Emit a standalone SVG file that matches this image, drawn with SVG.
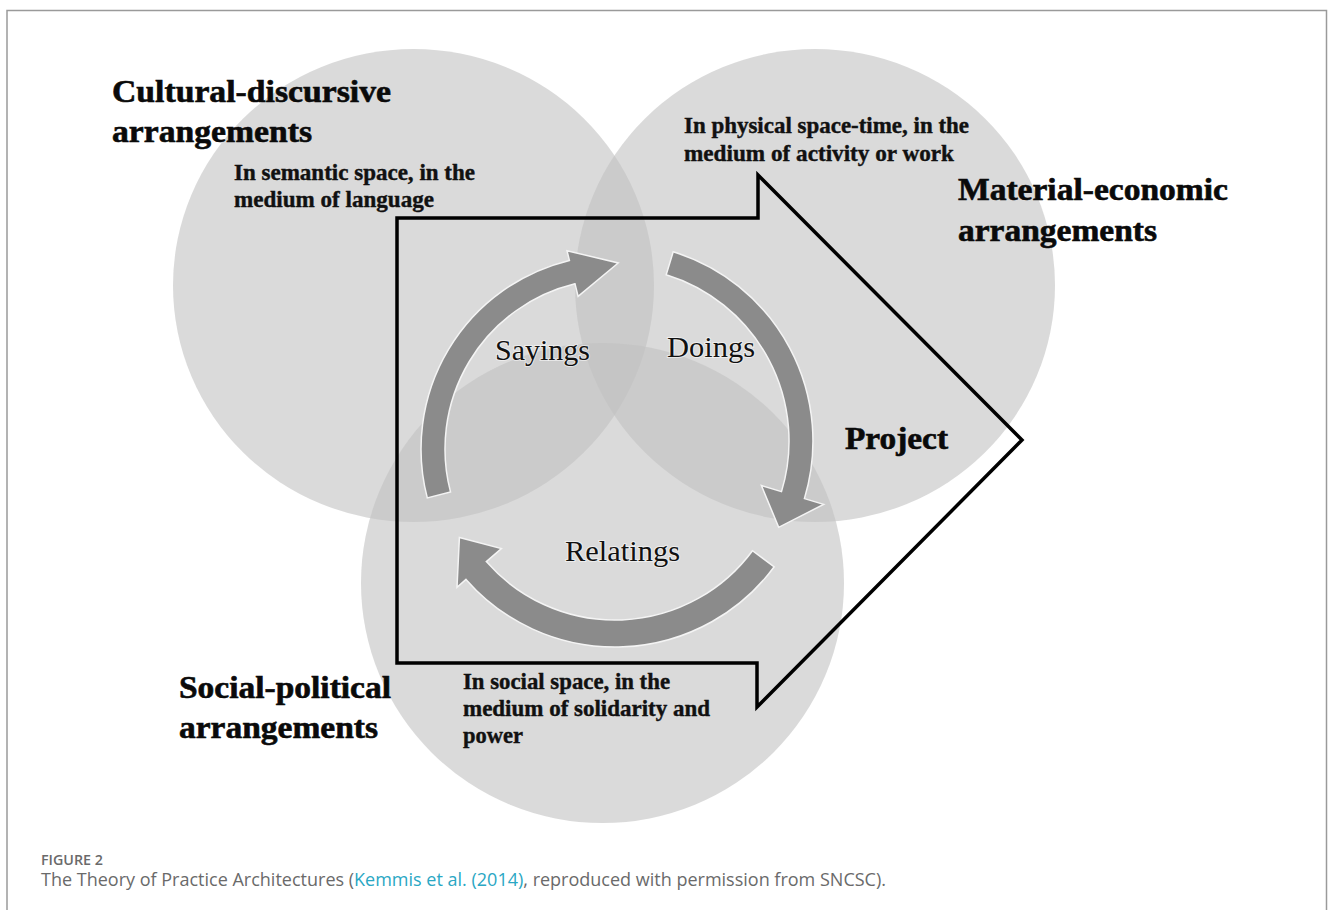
<svg xmlns="http://www.w3.org/2000/svg" width="1333" height="910" viewBox="0 0 1333 910">
<style>
.circ{fill:#c1c1c1;fill-opacity:0.6;}
.title{font-family:"Liberation Serif","Times New Roman",serif;font-weight:bold;font-size:31px;fill:#0a0a0a;stroke:#0a0a0a;stroke-width:0.6px;}
.desc{font-family:"Liberation Serif","Times New Roman",serif;font-weight:bold;font-size:22.5px;fill:#111;stroke:#111;stroke-width:0.4px;}
.lbl{font-family:"Liberation Serif","Times New Roman",serif;font-size:30px;fill:#111;stroke:#fff;stroke-opacity:0.55;stroke-width:2px;paint-order:stroke;}
.proj{font-family:"Liberation Serif","Times New Roman",serif;font-weight:bold;font-size:31px;fill:#0a0a0a;stroke:#0a0a0a;stroke-width:0.6px;}
.arrow{fill:#8b8b8b;stroke:#f4f4f4;stroke-width:1.5px;stroke-linejoin:miter;}
.cap{font-family:"Open Sans","Noto Sans","Liberation Sans",sans-serif;fill:#6a6a6a;}
</style>
<rect x="0" y="0" width="1333" height="910" fill="#fff"/>
<path d="M7 910 V10.5 H1326.5 V910" fill="none" stroke="#9a9a9a" stroke-width="1.5"/>

<g id="cultural-discursive">
<ellipse class="circ" cx="413.5" cy="285.5" rx="240.5" ry="236.5"/>
<text class="title" x="112" y="102" textLength="279" lengthAdjust="spacingAndGlyphs">Cultural-discursive</text>
<text class="title" x="112" y="142" textLength="200" lengthAdjust="spacingAndGlyphs">arrangements</text>
<text class="desc" x="234" y="180" textLength="241" lengthAdjust="spacingAndGlyphs">In semantic space, in the</text>
<text class="desc" x="234" y="207" textLength="200" lengthAdjust="spacingAndGlyphs">medium of language</text>
</g>

<g id="material-economic">
<ellipse class="circ" cx="815" cy="285.5" rx="240" ry="236.5"/>
<text class="desc" x="684" y="133" textLength="285" lengthAdjust="spacingAndGlyphs">In physical space-time, in the</text>
<text class="desc" x="684" y="161" textLength="270" lengthAdjust="spacingAndGlyphs">medium of activity or work</text>
<text class="title" x="958" y="200" textLength="270" lengthAdjust="spacingAndGlyphs">Material-economic</text>
<text class="title" x="958" y="241" textLength="199" lengthAdjust="spacingAndGlyphs">arrangements</text>
</g>

<g id="social-political">
<ellipse class="circ" cx="602.5" cy="583" rx="241.5" ry="240"/>
<text class="title" x="179" y="698" textLength="212" lengthAdjust="spacingAndGlyphs">Social-political</text>
<text class="title" x="179" y="738" textLength="199" lengthAdjust="spacingAndGlyphs">arrangements</text>
<text class="desc" x="463" y="689" textLength="207" lengthAdjust="spacingAndGlyphs">In social space, in the</text>
<text class="desc" x="463" y="716" textLength="247" lengthAdjust="spacingAndGlyphs">medium of solidarity and</text>
<text class="desc" x="463" y="743" textLength="60" lengthAdjust="spacingAndGlyphs">power</text>
</g>

<g id="project">
<polygon points="397,218 758,218 758,175 1022,440 757,707 757,663 397,663" fill="none" stroke="#000" stroke-width="3.5" stroke-linejoin="miter"/>
<text class="proj" x="845" y="449" textLength="103" lengthAdjust="spacingAndGlyphs">Project</text>
</g>

<g id="connectors">
<path id="sayings-arrow" class="arrow" d="M427.3 497.9 A194 194 0 0 1 569.4 260.4 L567.0 250.7 L618.2 263.0 L578.1 296.4 L575.0 283.8 A170 170 0 0 0 450.5 491.9 Z"/>
<path id="doings-arrow" class="arrow" d="M673.2 251.8 A198 198 0 0 1 804.4 498.6 L823.6 504.4 L778.7 527.3 L761.4 485.5 L781.5 491.6 A174 174 0 0 0 666.2 274.7 Z"/>
<path id="relatings-arrow" class="arrow" d="M774.2 566.8 A198 198 0 0 1 466.0 579.4 L457.0 587.3 L459.4 537.4 L501.4 548.5 L486.3 561.6 A171 171 0 0 0 752.5 550.7 Z"/>
</g>

<g id="labels">
<text class="lbl" x="495" y="360" textLength="95" lengthAdjust="spacingAndGlyphs">Sayings</text>
<text class="lbl" x="667" y="357" textLength="88" lengthAdjust="spacingAndGlyphs">Doings</text>
<text class="lbl" x="565" y="561" textLength="115" lengthAdjust="spacingAndGlyphs">Relatings</text>
</g>

<g id="caption">
<text class="cap" x="41" y="865" font-size="14.5" font-weight="600" textLength="62" lengthAdjust="spacingAndGlyphs">FIGURE 2</text>
<text class="cap" x="41" y="886" font-size="17.5" textLength="845" lengthAdjust="spacingAndGlyphs">The Theory of Practice Architectures (<tspan fill="#2aa7c4">Kemmis et al. (2014)</tspan>, reproduced with permission from SNCSC).</text>
</g>
</svg>
